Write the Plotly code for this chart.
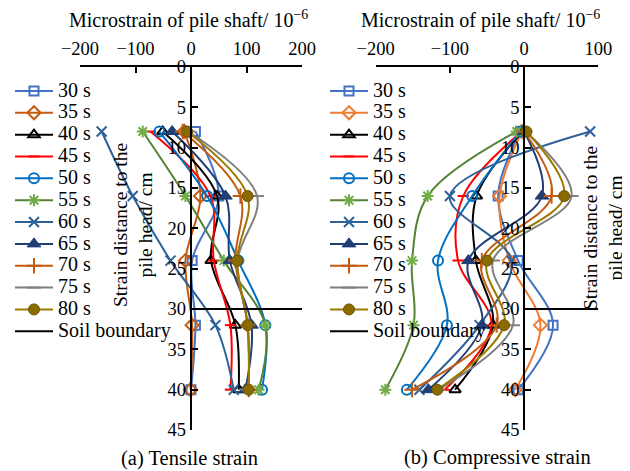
import plotly.graph_objects as go

# ---------------- data ----------------
depth = [8, 16, 24, 32, 40]                # strain distance to the pile head (cm)
series_names = ["30 s", "35 s", "40 s", "45 s", "50 s", "55 s",
                "60 s", "65 s", "70 s", "75 s", "80 s"]

# (a) tensile strain (microstrain)
tens_30 = [8, 50, 2, 8, 0]
tens_35 = [-12, 17, -10, 2, -1]
tens_40 = [-51, 47, 36, 80, 86]
tens_45 = [-73, 35, 41, 71, 71]
tens_50 = [-57, 29, 85, 134, 128]
tens_55 = [-87, -10, 59, 134, 122]
tens_60 = [-161, -105, -37, 44, 77]
tens_65 = [-34, 62, 70, 109, 98]
tens_70 = [-15, 89, 80, 102, 104]
tens_75 = [-5, 119, 84, 102, 104]
tens_80 = [-7, 102, 83, 102, 104]

# (b) compressive strain (microstrain)
comp_30 = [-5, -35, -8, 39, -8]
comp_35 = [-3, -33, -20, 22, -12]
comp_40 = [-2, -64, -65, -42, -93]
comp_45 = [-3, -82, -89, -44, -107]
comp_50 = [-5, -70, -116, -104, -158]
comp_55 = [-10, -130, -151, -149, -187]
comp_60 = [89, -100, -17, -60, -141]
comp_65 = [0, 24, -75, -57, -129]
comp_70 = [0, 37, -57, -37, -151]
comp_75 = [2, 64, -42, -15, -115]
comp_80 = [3, 54, -50, -27, -117]

soil_depth = [30, 30]
soil_x_left = [0, 200]
soil_x_right = [0, 100]

tensile = [tens_30, tens_35, tens_40, tens_45, tens_50, tens_55,
           tens_60, tens_65, tens_70, tens_75, tens_80]
compressive = [comp_30, comp_35, comp_40, comp_45, comp_50, comp_55,
               comp_60, comp_65, comp_70, comp_75, comp_80]

# ---------------- layout helpers ----------------
FONT = "Liberation Serif"
PAGE_OFF = 8                      # default body margin of the html page
W, H = 630 - PAGE_OFF, 471 - PAGE_OFF

def fx(px):   # page pixel -> paper x
    return (px - PAGE_OFF) / W

def fy(py):   # page pixel -> paper y
    return 1 - (py - PAGE_OFF) / H

def style(i, panel):
    c35 = "#C55A11" if panel == 0 else "#ED7D31"
    st = [
        dict(line="#4472C4", symbol="square-open", size=9, mc="#4472C4", fill=None),
        dict(line=c35, symbol="diamond-open", size=10, mc=c35, fill=None),
        dict(line="#000000", symbol="triangle-up-open", size=10, mc="#000000", fill=None),
        dict(line="#FF0000", symbol="line-ew", size=8, mc="#FF0000", fill=None),
        dict(line="#0070C0", symbol="circle-open", size=10, mc="#0070C0", fill=None),
        dict(line="#548235", symbol="asterisk-open", size=10, mc="#70AD47", fill=None),
        dict(line="#2E6099", symbol="x-thin-open", size=10, mc="#2E6099", fill=None),
        dict(line="#203E74", symbol="triangle-up", size=12, mc="#203E74", fill="#203E74"),
        dict(line="#C55A11", symbol="cross-thin-open", size=11, mc="#C55A11", fill=None),
        dict(line="#7F7F7F", symbol="line-ew-open", size=10, mc="#7F7F7F", fill=None),
        dict(line="#9C7A00", symbol="circle", size=11, mc="#6B5200", fill="#8B6A00"),
    ]
    return st[i]

def lname(t):
    return f'<span style="font-size:20px">{t}</span>'

fig = go.Figure()

for panel, (data, xa, ya, leg) in enumerate([(tensile, "x", "y", "legend"),
                                              (compressive, "x2", "y2", "legend2")]):
    for i, name in enumerate(series_names):
        s = style(i, panel)
        marker = dict(symbol=s["symbol"], size=s["size"],
                      line=dict(color=s["mc"], width=2 if s["fill"] is None else 1))
        marker["color"] = s["fill"] if s["fill"] else s["mc"]
        fig.add_trace(go.Scatter(
            x=data[i], y=depth, xaxis=xa, yaxis=ya, legend=leg,
            mode="lines+markers", name=lname(name),
            line=dict(color=s["line"], width=2, shape="spline", smoothing=1.0),
            marker=marker,
        ))
    fig.add_trace(go.Scatter(
        x=soil_x_left if panel == 0 else soil_x_right, y=soil_depth,
        xaxis=xa, yaxis=ya, legend=leg, mode="lines",
        name=lname("Soil boundary"),
        line=dict(color="#000000", width=2),
    ))

def xax(domain, rng, anchor):
    return dict(domain=domain, range=rng, side="top", anchor=anchor,
                showline=True, linecolor="black", linewidth=2, ticks="inside",
                ticklen=6, tickwidth=2, tickcolor="black", dtick=100,
                showgrid=False, zeroline=False, automargin=False,
                ticklabelstandoff=3,
                tickfont=dict(family=FONT, size=18.5, color="black"))

def yax(pos):
    return dict(domain=[fy(430), fy(67)], range=[45, 0], anchor="free",
                position=pos, side="left", showline=True, linecolor="black", linewidth=2,
                ticks="inside", ticklen=6, tickwidth=2, tickcolor="black", dtick=5,
                showgrid=False, zeroline=False, automargin=False,
                tickfont=dict(family=FONT, size=18.5, color="black"))

xtitle = "Microstrain of pile shaft/ 10<sup>−6</sup>"
ytitle = "Strain distance to the<br>pile head/ cm"
legend_common = dict(yanchor="top", xanchor="left", bgcolor="rgba(0,0,0,0)",
                     font=dict(family=FONT, size=14.5, color="black"),
                     itemwidth=38, traceorder="normal", tracegroupgap=0)

def ann(text, x, y, size, angle=0):
    return dict(text=text, x=fx(x), y=fy(y), xref="paper", yref="paper",
                xanchor="center", yanchor="middle", showarrow=False, textangle=angle,
                font=dict(family=FONT, size=size, color="black"))

fig.update_layout(
    width=W, height=H,
    margin=dict(l=0, r=0, t=0, b=0, autoexpand=False),
    paper_bgcolor="white", plot_bgcolor="white",
    font=dict(family=FONT, color="black"),
    xaxis=xax([fx(80), fx(302)], [-200, 200], "y"),
    yaxis=yax(fx(190.7)),
    xaxis2=xax([fx(375.7), fx(598.3)], [-200, 100], "y2"),
    yaxis2=yax(fx(524.1)),
    legend=dict(x=fx(10), y=fy(75), **legend_common),
    legend2=dict(x=fx(325), y=fy(75), **legend_common),
    annotations=[
        ann(xtitle, 188, 19, 20),
        ann(xtitle, 481, 19, 20),
        ann(ytitle, 133, 225, 19.5, -90),
        ann(ytitle, 603, 228, 19.5, -90),
        ann("(a) Tensile strain", 189, 458, 20.5),
        ann("(b) Compressive strain", 497, 457, 20.5),
    ],
)

fig.write_html("out.html")
